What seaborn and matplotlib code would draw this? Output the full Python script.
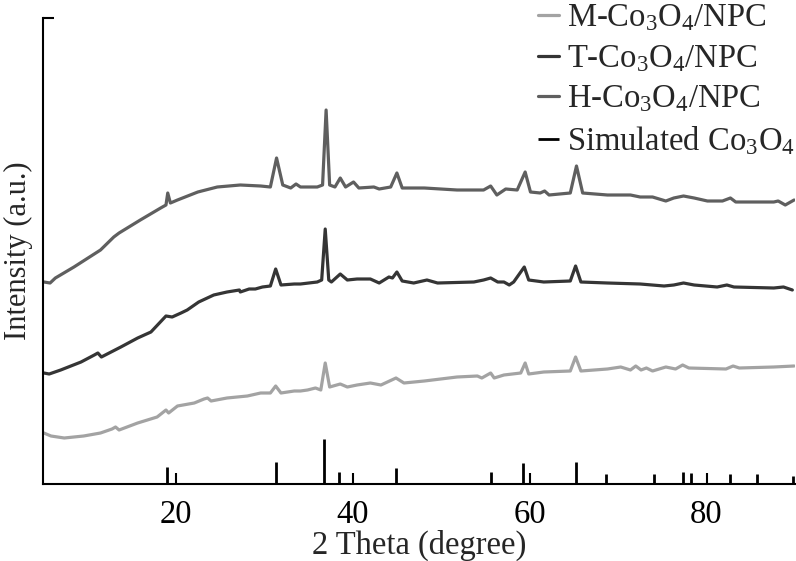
import numpy as np
import matplotlib
matplotlib.use('Agg')
import matplotlib.pyplot as plt
import pandas as pd
import seaborn as sns

# XRD patterns (2 theta in degree, intensity in a.u.)
h_theta = [5.1, 5.8, 6.4, 8.5, 11.5, 13.0, 13.6, 16.0, 18.3, 18.9, 19.1, 19.4, 20.2, 22.5, 24.7, 27.3,
           29.6, 30.7, 31.4, 32.1, 33.0, 33.6, 34.1, 36.0, 36.6, 37.0, 37.4, 38.0, 38.6, 39.2, 40.1, 40.7,
           42.4, 43.0, 44.3, 45.0, 45.6, 48.1, 51.8, 54.8, 55.6, 56.3, 57.3, 58.6, 59.5, 60.1, 61.2, 61.7,
           62.2, 64.6, 65.3, 66.0, 68.8, 71.4, 72.5, 73.9, 75.4, 76.3, 77.4, 78.6, 80.1, 81.8, 82.7, 83.3,
           87.6, 88.1, 88.9, 89.9]
h_int = [202, 201, 206, 217, 234, 247, 251, 264, 276, 279, 291, 281, 284, 292, 297, 299,
         298, 297, 326, 299, 296, 300, 297, 297, 299, 374, 299, 297, 306, 297, 302, 296,
         297, 295, 297, 311, 296, 296, 294, 294, 298, 289, 295, 294, 312, 292, 291, 293,
         289, 291, 318, 291, 289, 289, 287, 287, 283, 286, 288, 286, 283, 283, 286, 282,
         282, 283, 279, 284]

t_theta = [5.1, 5.7, 7.0, 9.3, 10.8, 11.2, 11.6, 13.8, 15.7, 17.2, 18.9, 19.6, 20.6, 21.3, 22.6, 24.3,
           25.8, 27.2, 27.3, 28.3, 29.0, 29.8, 30.7, 31.3, 31.9, 33.4, 34.1, 36.0, 36.5, 36.9, 37.3,
           37.6, 38.6, 39.4, 40.5, 42.0, 43.0, 44.1, 44.5, 45.0, 45.6, 46.9, 48.4, 49.6, 53.7, 54.8,
           55.6, 56.4, 57.1, 57.7, 58.2, 59.4, 59.9, 61.6, 64.6, 65.2, 65.8, 68.8, 72.5, 75.2, 76.3,
           77.4, 78.6, 81.2, 82.3, 83.1, 87.6, 88.7, 89.7]
t_int = [111, 110, 114, 122, 129, 131, 127, 137, 146, 152, 168, 167, 171, 174, 182, 189,
         192, 194, 192, 195, 195, 197, 198, 215, 199, 200, 200, 202, 204, 255, 204,
         202, 210, 204, 205, 205, 201, 207, 206, 212, 203, 201, 204, 201, 202, 204,
         206, 202, 202, 199, 202, 217, 204, 202, 203, 218, 202, 201, 200, 198, 199,
         201, 199, 197, 199, 197, 196, 197, 194]

m_theta = [5.1, 5.9, 7.4, 9.6, 11.5, 12.8, 13.2, 13.6, 15.7, 17.9, 18.9, 19.2, 20.2, 22.1, 23.2, 23.6,
           24.0, 25.8, 28.1, 29.6, 30.7, 31.3, 31.9, 33.4, 34.1, 34.9, 35.8, 36.4, 36.9, 37.4, 38.6,
           39.4, 40.5, 42.0, 43.2, 44.9, 45.8, 48.1, 51.8, 54.1, 54.6, 55.6, 56.0, 57.1, 59.0, 59.5,
           59.9, 61.6, 64.6, 65.2, 65.8, 68.8, 70.3, 71.4, 72.0, 72.6, 73.2, 73.9, 75.4, 76.5, 77.3,
           78.0, 82.2, 83.0, 83.7, 87.6, 89.9]
m_int = [51, 48, 46, 48, 51, 55, 57, 54, 61, 67, 74, 71, 78, 81, 85, 86,
         83, 86, 88, 91, 91, 98, 91, 93, 93, 94, 96, 94, 121, 97, 100,
         97, 99, 101, 99, 106, 101, 103, 107, 108, 106, 111, 106, 109, 111, 121,
         110, 112, 113, 127, 113, 115, 117, 114, 118, 114, 116, 113, 117, 115, 119,
         116, 115, 118, 116, 117, 118]

# simulated Co3O4 reference lines
sim_theta = [19.0, 31.3, 36.8, 38.5, 44.9, 55.6, 59.3, 65.3, 68.6, 74.1, 77.3, 78.3, 82.7, 85.7, 89.8]
sim_int = [17, 22, 45, 12, 16, 12, 21, 22, 10, 10, 12, 11, 10, 10, 8]

labels = ['M-Co$_3$O$_4$/NPC', 'T-Co$_3$O$_4$/NPC', 'H-Co$_3$O$_4$/NPC', 'Simulated Co$_3$O$_4$']
colors = ['#a3a3a3', '#353535', '#5f5f5f', '#000000']

sns.set_style('ticks')
plt.rcParams['font.family'] = ['Liberation Serif', 'DejaVu Serif']
plt.rcParams['mathtext.fontset'] = 'custom'
plt.rcParams['mathtext.rm'] = 'Liberation Serif'
plt.rcParams['mathtext.it'] = 'Liberation Serif:italic'

fs = 23.5
fig = plt.figure(figsize=(7.96, 5.61), dpi=100)
ax = fig.add_axes([43 / 796, 77 / 561, 752 / 796, 466 / 561])

curves = [(m_theta, m_int), (t_theta, t_int), (h_theta, h_int)]
for (x, y), lab, c in zip(curves, labels[:3], colors[:3]):
    df = pd.DataFrame({'theta': x, 'intensity': y})
    sns.lineplot(data=df, x='theta', y='intensity', ax=ax, color=c, lw=2.3,
                 sort=False, estimator=None, label=lab, solid_joinstyle='round')

ax.vlines(sim_theta, 0, sim_int, color=colors[3], lw=2.0, label=labels[3])

ax.set_xlim(5, 90)
ax.set_ylim(0, 466)
ax.set_xticks([20, 40, 60, 80])
ax.set_yticks([466])
ax.set_yticklabels([])
ax.tick_params(axis='both', direction='in', length=8, width=1.5, labelsize=fs, pad=11, colors='black')
ax.set_xlabel('2 Theta (degree)', fontsize=fs, labelpad=0)
ax.set_ylabel('Intensity (a.u.)', fontsize=22)
ax.yaxis.set_label_coords(-0.013, 0.5)
for s in ['top', 'right']:
    ax.spines[s].set_visible(False)
for s in ['left', 'bottom']:
    ax.spines[s].set_linewidth(1.5)
    ax.spines[s].set_color('black')

ax.legend(loc='upper right', bbox_to_anchor=(1.0, 1.033), frameon=False, fontsize=fs,
          handlelength=0.65, handletextpad=0.25, labelspacing=0.3, borderaxespad=0, borderpad=0)

fig.savefig('out.png', dpi=100)
